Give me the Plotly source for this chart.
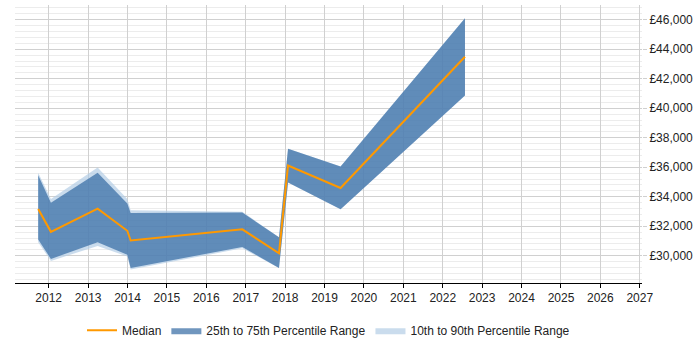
import plotly.graph_objects as go

dates = ["2011-09-26", "2012-01-22", "2013-03-30", "2013-12-30", "2014-01-30",
         "2016-11-30", "2017-11-05", "2018-01-28", "2019-05-30", "2022-07-26"]
median = [33170, 31620, 33190, 31690, 31030, 31790, 30160, 36120, 34590, 43490]
p75 = [35460, 33590, 35620, 33540, 32890, 32930, 31250, 37260, 36050, 46110]
p25 = [31100, 29780, 30920, 30070, 29170, 30590, 29170, 34960, 33150, 40870]
p90 = [35620, 33850, 35990, 33850, 33080, 32980, 31250, 37260, 36050, 46110]
p10 = [30920, 29650, 30660, 29950, 29060, 30500, 29170, 34960, 33150, 40870]

FONT = "Liberation Sans, Arial, sans-serif"
fig = go.Figure()

# 10th-90th band
fig.add_trace(go.Scatter(x=dates, y=p10, mode="lines", line=dict(width=0),
                         showlegend=False, hoverinfo="skip"))
fig.add_trace(go.Scatter(x=dates, y=p90, mode="lines", line=dict(width=0),
                         fill="tonexty", fillcolor="rgba(180,205,230,0.7)",
                         name="10th to 90th Percentile Range", legendrank=3))
# 25th-75th band
fig.add_trace(go.Scatter(x=dates, y=p25, mode="lines", line=dict(width=0),
                         showlegend=False, hoverinfo="skip"))
fig.add_trace(go.Scatter(x=dates, y=p75, mode="lines", line=dict(width=0),
                         fill="tonexty", fillcolor="rgba(51,105,162,0.7)",
                         name="25th to 75th Percentile Range", legendrank=2))
# Median
fig.add_trace(go.Scatter(x=dates, y=median, mode="lines",
                         line=dict(color="#FF9900", width=2),
                         name="Median", legendrank=1))

fig.update_layout(
    width=700, height=350,
    margin=dict(l=15, r=58, t=5, b=58),
    paper_bgcolor="white", plot_bgcolor="white",
    font=dict(family=FONT, size=12, color="#222"),
    showlegend=True,
    legend=dict(orientation="h", x=0.5, xanchor="center", y=-0.118, yanchor="top",
                font=dict(size=12, family=FONT, color="#222"), traceorder="normal"),
    xaxis=dict(
        type="date", range=["2011-02-23", "2027-01-22"],
        tick0="2012-01-01", dtick="M12", tickformat="%Y",
        showgrid=True, gridcolor="#d0d0d0", gridwidth=1,
        showline=True, linecolor="#000", linewidth=1,
        ticks="outside", ticklen=4, tickcolor="#000",
        zeroline=False,
        tickfont=dict(size=12, family=FONT, color="#222"),
    ),
    yaxis=dict(
        side="right", range=[28150, 47000],
        tick0=0, dtick=2000, tickprefix="£", tickformat=",d",
        showgrid=True, gridcolor="#d0d0d0", gridwidth=1,
        minor=dict(dtick=400, showgrid=True, gridcolor="#ececec", gridwidth=1),
        ticks="outside", ticklen=4, tickcolor="#d0d0d0",
        showline=False, zeroline=False,
        tickfont=dict(size=12, family=FONT, color="#222"),
    ),
)

fig.write_html("out.html")
